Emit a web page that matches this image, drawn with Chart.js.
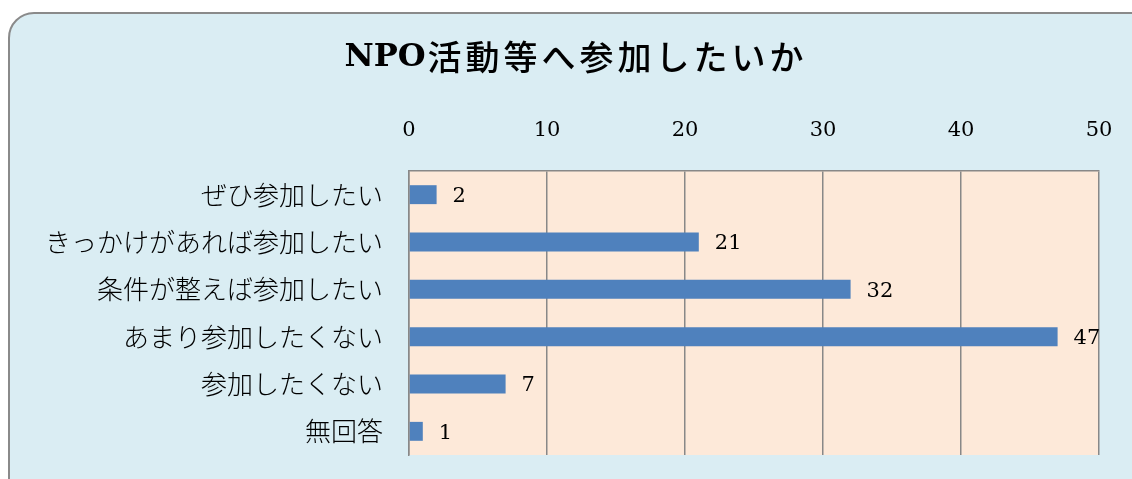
<!DOCTYPE html>
<html lang="ja">
<head>
<meta charset="utf-8">
<script src="https://cdn.jsdelivr.net/npm/chart.js@4/dist/chart.umd.min.js"></script>
<style>
  html, body { margin: 0; padding: 0; background: #ffffff; }
  body { width: 1132px; height: 479px; position: relative; overflow: hidden; }
  #frame {
    position: absolute; left: 8px; top: 12px; width: 1160px; height: 500px;
    box-sizing: border-box; border: 2px solid #8a8a8a; border-radius: 26px;
    background: #daedf3;
  }
  #wrap { position: absolute; left: 0; top: 0; width: 1132px; height: 479px; }
</style>
</head>
<body>
<div id="frame"></div>
<div id="wrap"><canvas id="grafico" width="1132" height="479"></canvas></div>
<script>
// Datos del gráfico
const categorias = ['ぜひ参加したい', 'きっかけがあれば参加したい', '条件が整えば参加したい', 'あまり参加したくない', '参加したくない', '無回答'];
const valores = [2, 21, 32, 47, 7, 1];
const tituloLatin = 'NPO';
const tituloJp = '活動等へ参加したいか';
const ejeMin = 0;
const ejeMax = 50;
const ejePaso = 10;

const fuenteSerif = '"DejaVu Serif", "Liberation Serif", serif';
const fuenteJp = '"Noto Sans CJK JP", sans-serif';

// Fondo del área de trazado
const fondoArea = {
    id: 'fondoArea',
    beforeDraw(chart) {
        const { ctx, chartArea: a } = chart;
        ctx.save();
        ctx.fillStyle = '#fde9d9';
        ctx.fillRect(a.left, a.top, a.right - a.left, a.bottom - a.top);
        ctx.restore();
    }
};

// Título centrado sobre el marco (parte latina en serif negrita)
const tituloMarco = {
    id: 'tituloMarco',
    afterDraw(chart) {
        const { ctx } = chart;
        ctx.save();
        ctx.fillStyle = '#000000';
        ctx.textBaseline = 'middle';
        const f1 = 'bold 32px ' + fuenteSerif;
        const f2 = '500 34px ' + fuenteJp;
        ctx.font = f1;
        const w1 = ctx.measureText(tituloLatin).width;
        ctx.font = f2;
        ctx.letterSpacing = '4px';
        const w2 = ctx.measureText(tituloJp).width;
        ctx.letterSpacing = '0px';
        const x0 = 575 - (w1 + w2) / 2;
        ctx.textAlign = 'left';
        ctx.font = f1;
        ctx.fillText(tituloLatin, x0, 58);
        ctx.font = f2;
        ctx.letterSpacing = '4px';
        ctx.fillText(tituloJp, x0 + w1 + 2, 57);
        ctx.restore();
    }
};

// Etiquetas de valor junto a cada barra
const etiquetas = {
    id: 'etiquetas',
    afterDatasetsDraw(chart) {
        const { ctx } = chart;
        const meta = chart.getDatasetMeta(0);
        ctx.save();
        ctx.font = '21px ' + fuenteSerif;
        ctx.fillStyle = '#000000';
        ctx.textAlign = 'left';
        ctx.textBaseline = 'middle';
        meta.data.forEach((bar, i) => {
            ctx.fillText(String(valores[i]), bar.x + 16, bar.y + 2);
        });
        ctx.restore();
    }
};

const ctx = document.getElementById('grafico').getContext('2d');
const chart = new Chart(ctx, {
    type: 'bar',
    data: {
        labels: categorias,
        datasets: [{
            data: valores,
            backgroundColor: '#4f81bd',
            borderWidth: 0,
            barPercentage: 0.8,
            categoryPercentage: 0.5
        }]
    },
    options: {
        indexAxis: 'y',
        responsive: false,
        animation: false,
        devicePixelRatio: 1,
        layout: { padding: { left: 0, right: 33, top: 86, bottom: 24 } },
        plugins: {
            legend: { display: false },
            tooltip: { enabled: false },
            title: { display: false }
        },
        scales: {
            x: {
                position: 'top',
                min: ejeMin,
                max: ejeMax,
                ticks: {
                    stepSize: ejePaso,
                    color: '#000000',
                    padding: 28,
                    font: { family: fuenteSerif, size: 21 }
                },
                grid: { color: '#888888', lineWidth: 1.5, drawTicks: false },
                border: { display: true, color: '#888888', width: 1.5 },
                afterFit(scale) {
                    scale.height = 85;
                    scale.paddingLeft = 0;
                    scale.paddingRight = 0;
                }
            },
            y: {
                ticks: {
                    color: '#000000',
                    padding: 26,
                    font: { family: fuenteJp, size: 26, weight: 300 }
                },
                grid: { display: false, drawTicks: false },
                border: { display: true, color: '#888888', width: 1.5 },
                afterFit(scale) {
                    scale.width = 409;
                    scale.paddingTop = 0;
                    scale.paddingBottom = 0;
                }
            }
        }
    },
    plugins: [fondoArea, tituloMarco, etiquetas]
});
</script>
</body>
</html>
